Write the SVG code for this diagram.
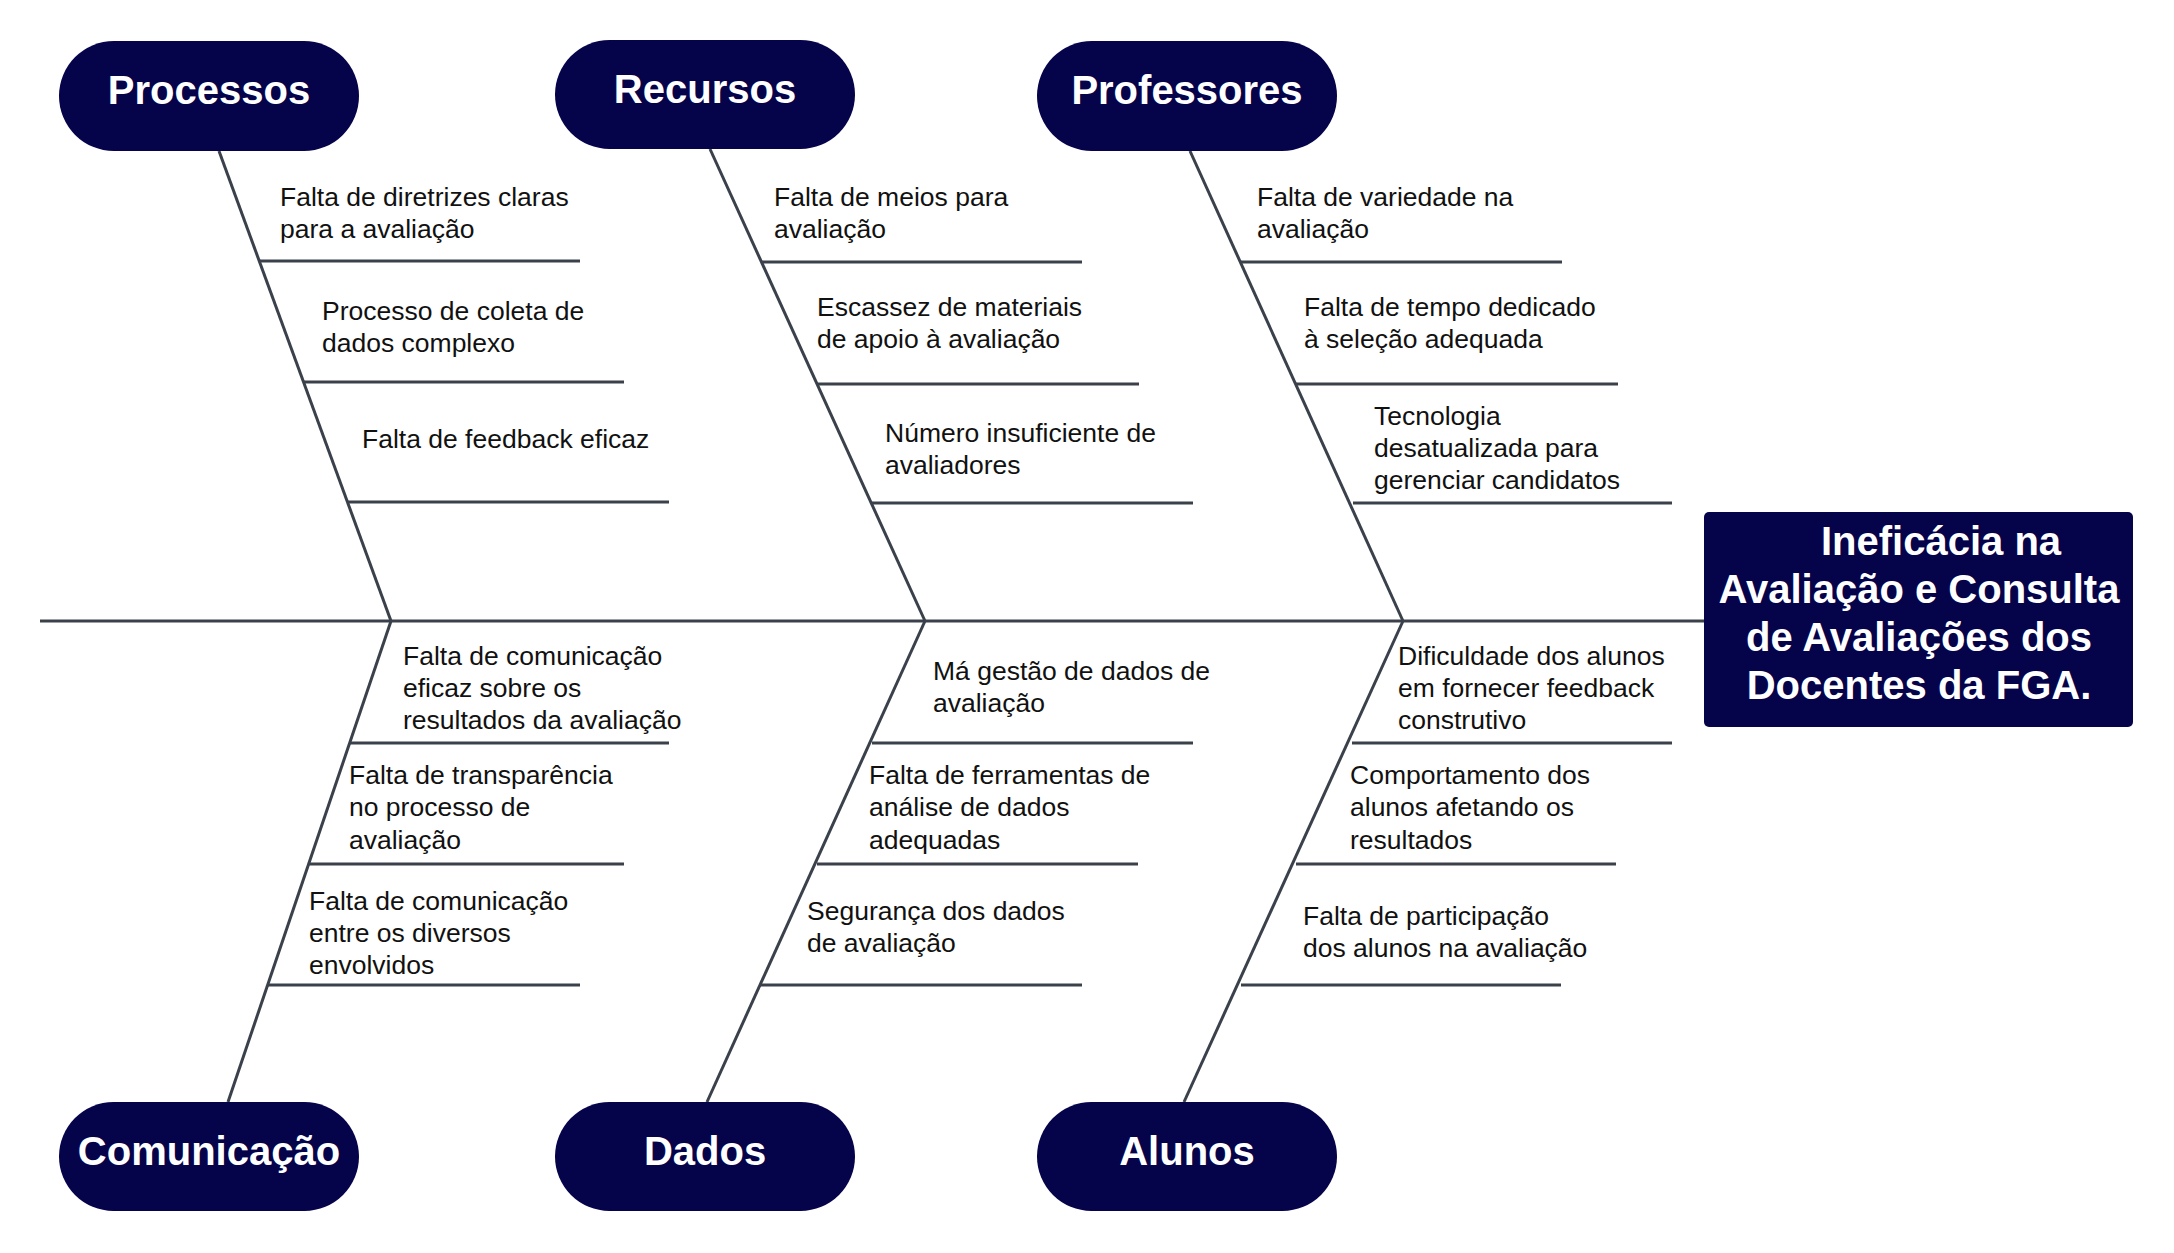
<svg xmlns="http://www.w3.org/2000/svg" width="2174" height="1253" viewBox="0 0 2174 1253">
  <style>
    .pill { fill: #05034a; }
    .lbl { font-family: "Liberation Sans", Arial, sans-serif; font-weight: bold; font-size: 40px; fill: #ffffff; text-anchor: middle; }
    .t { font-family: "Liberation Sans", Arial, sans-serif; font-size: 26.5px; fill: #111111; }
    .ln { stroke: #3a414a; stroke-width: 3; fill: none; stroke-linecap: butt; }
  </style>
  <rect width="2174" height="1253" fill="#ffffff"/>

  <g id="connectors">
    <!-- spine -->
    <line class="ln" x1="40" y1="621" x2="1704" y2="621"/>
    <!-- bones -->
    <line class="ln" x1="219" y1="151" x2="391" y2="621"/>
    <line class="ln" x1="710" y1="149" x2="925" y2="621"/>
    <line class="ln" x1="1190" y1="151" x2="1403" y2="621"/>
    <line class="ln" x1="391" y1="621" x2="228" y2="1102"/>
    <line class="ln" x1="925" y1="621" x2="707" y2="1102"/>
    <line class="ln" x1="1403" y1="621" x2="1184" y2="1102"/>
    <!-- top sub-lines -->
    <line class="ln" x1="260" y1="261" x2="580" y2="261"/>
    <line class="ln" x1="304" y1="382" x2="624" y2="382"/>
    <line class="ln" x1="348" y1="502" x2="669" y2="502"/>
    <line class="ln" x1="761" y1="262" x2="1082" y2="262"/>
    <line class="ln" x1="818" y1="384" x2="1139" y2="384"/>
    <line class="ln" x1="872" y1="503" x2="1193" y2="503"/>
    <line class="ln" x1="1240" y1="262" x2="1562" y2="262"/>
    <line class="ln" x1="1296" y1="384" x2="1618" y2="384"/>
    <line class="ln" x1="1353" y1="503" x2="1672" y2="503"/>
    <!-- bottom sub-lines -->
    <line class="ln" x1="350" y1="743" x2="669" y2="743"/>
    <line class="ln" x1="309" y1="864" x2="624" y2="864"/>
    <line class="ln" x1="268" y1="985" x2="580" y2="985"/>
    <line class="ln" x1="872" y1="743" x2="1193" y2="743"/>
    <line class="ln" x1="817" y1="864" x2="1138" y2="864"/>
    <line class="ln" x1="760" y1="985" x2="1082" y2="985"/>
    <line class="ln" x1="1352" y1="743" x2="1672" y2="743"/>
    <line class="ln" x1="1296" y1="864" x2="1616" y2="864"/>
    <line class="ln" x1="1241" y1="985" x2="1561" y2="985"/>
  </g>

  <g id="problem">
    <rect x="1704" y="512" width="429" height="215" rx="5" class="pill"/>
    <text class="lbl" x="1941" y="555">Ineficácia na</text>
    <text class="lbl" x="1919" y="603">Avaliação e Consulta</text>
    <text class="lbl" x="1919" y="651">de Avaliações dos</text>
    <text class="lbl" x="1919" y="699">Docentes da FGA.</text>
  </g>

  <g id="processos">
    <rect x="59" y="41" width="300" height="110" rx="55" class="pill"/>
    <text class="lbl" x="209" y="104">Processos</text>
  </g>
  <g id="recursos">
    <rect x="555" y="40" width="300" height="109" rx="54.5" class="pill"/>
    <text class="lbl" x="705" y="103">Recursos</text>
  </g>
  <g id="professores">
    <rect x="1037" y="41" width="300" height="110" rx="55" class="pill"/>
    <text class="lbl" x="1187" y="104">Professores</text>
  </g>
  <g id="comunicacao">
    <rect x="59" y="1102" width="300" height="109" rx="54.5" class="pill"/>
    <text class="lbl" x="209" y="1165">Comunicação</text>
  </g>
  <g id="dados">
    <rect x="555" y="1102" width="300" height="109" rx="54.5" class="pill"/>
    <text class="lbl" x="705" y="1165">Dados</text>
  </g>
  <g id="alunos">
    <rect x="1037" y="1102" width="300" height="109" rx="54.5" class="pill"/>
    <text class="lbl" x="1187" y="1165">Alunos</text>
  </g>

  <g id="causes-processos">
    <text class="t" x="280" y="206">Falta de diretrizes claras</text>
    <text class="t" x="280" y="238">para a avaliação</text>
    <text class="t" x="322" y="320">Processo de coleta de</text>
    <text class="t" x="322" y="352">dados complexo</text>
    <text class="t" x="362" y="448">Falta de feedback eficaz</text>
  </g>
  <g id="causes-recursos">
    <text class="t" x="774" y="206">Falta de meios para</text>
    <text class="t" x="774" y="238">avaliação</text>
    <text class="t" x="817" y="316">Escassez de materiais</text>
    <text class="t" x="817" y="348">de apoio à avaliação</text>
    <text class="t" x="885" y="442">Número insuficiente de</text>
    <text class="t" x="885" y="474">avaliadores</text>
  </g>
  <g id="causes-professores">
    <text class="t" x="1257" y="206">Falta de variedade na</text>
    <text class="t" x="1257" y="238">avaliação</text>
    <text class="t" x="1304" y="316">Falta de tempo dedicado</text>
    <text class="t" x="1304" y="348">à seleção adequada</text>
    <text class="t" x="1374" y="425">Tecnologia</text>
    <text class="t" x="1374" y="457">desatualizada para</text>
    <text class="t" x="1374" y="489">gerenciar candidatos</text>
  </g>
  <g id="causes-comunicacao">
    <text class="t" x="403" y="665">Falta de comunicação</text>
    <text class="t" x="403" y="697">eficaz sobre os</text>
    <text class="t" x="403" y="729">resultados da avaliação</text>
    <text class="t" x="349" y="784">Falta de transparência</text>
    <text class="t" x="349" y="816">no processo de</text>
    <text class="t" x="349" y="849">avaliação</text>
    <text class="t" x="309" y="910">Falta de comunicação</text>
    <text class="t" x="309" y="942">entre os diversos</text>
    <text class="t" x="309" y="974">envolvidos</text>
  </g>
  <g id="causes-dados">
    <text class="t" x="933" y="680">Má gestão de dados de</text>
    <text class="t" x="933" y="712">avaliação</text>
    <text class="t" x="869" y="784">Falta de ferramentas de</text>
    <text class="t" x="869" y="816">análise de dados</text>
    <text class="t" x="869" y="849">adequadas</text>
    <text class="t" x="807" y="920">Segurança dos dados</text>
    <text class="t" x="807" y="952">de avaliação</text>
  </g>
  <g id="causes-alunos">
    <text class="t" x="1398" y="665">Dificuldade dos alunos</text>
    <text class="t" x="1398" y="697">em fornecer feedback</text>
    <text class="t" x="1398" y="729">construtivo</text>
    <text class="t" x="1350" y="784">Comportamento dos</text>
    <text class="t" x="1350" y="816">alunos afetando os</text>
    <text class="t" x="1350" y="849">resultados</text>
    <text class="t" x="1303" y="925">Falta de participação</text>
    <text class="t" x="1303" y="957">dos alunos na avaliação</text>
  </g>
</svg>
